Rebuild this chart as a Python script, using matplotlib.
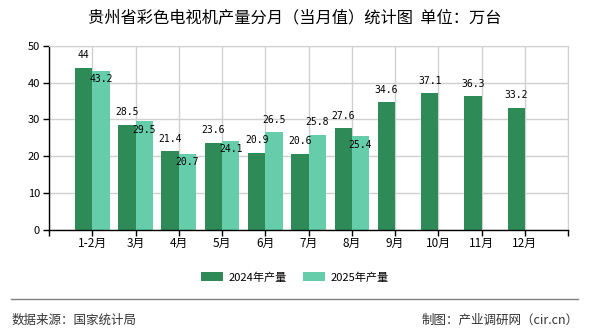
import matplotlib.pyplot as plt
from matplotlib.lines import Line2D

plt.rcParams['font.family'] = ['Noto Sans CJK SC', 'DejaVu Sans']

# monthly output, 10k units
months = ['1-2月', '3月', '4月', '5月', '6月', '7月', '8月', '9月', '10月', '11月', '12月']
y2024 = [44, 28.5, 21.4, 23.6, 20.9, 20.6, 27.6, 34.6, 37.1, 36.3, 33.2]
y2025 = [43.2, 29.5, 20.7, 24.1, 26.5, 25.8, 25.4]

c24 = '#2e8b57'
c25 = '#66cdaa'

fig = plt.figure(figsize=(5.9, 3.3), dpi=100)
ax = fig.add_axes([0.083, 0.304, 0.880, 0.557])

x24 = list(range(len(y2024)))
x25 = list(range(len(y2025)))
ax.bar([i - 0.2 for i in x24], y2024, width=0.4, color=c24, label='2024年产量', zorder=2)
ax.bar([i + 0.2 for i in x25], y2025, width=0.4, color=c25, label='2025年产量', zorder=2)

lab = dict(ha='center', va='center', fontsize=7, family='DejaVu Sans Mono',
           textcoords='offset points', zorder=3)
for i, v in enumerate(y2024):
    ax.annotate(f'{v:g}', (i - 0.2, v), xytext=(0, 9), **lab)
for i, v in enumerate(y2025):
    # labels that would clash with the 2024 label sit just under the bar top
    dy = -6 if abs(v - y2024[i]) < 3 else 9
    ax.annotate(f'{v:g}', (i + 0.2, v), xytext=(0, dy), **lab)

ax.set_xlim(-1, 11)
ax.set_ylim(0, 50)
ax.set_xticks(range(-1, 12))
ax.set_xticklabels([''] + months + [''], fontsize=8.5)
ax.set_yticks(range(0, 51, 10))
ax.tick_params(axis='y', labelsize=8, length=4.5, width=1, pad=2)
ax.tick_params(axis='x', length=4, width=1, pad=1.5)
ax.grid(True, color='#d0d0d0', linewidth=1, zorder=0)
ax.set_axisbelow(True)
for s in ['top', 'right']:
    ax.spines[s].set_color('#d0d0d0')
for s in ['left', 'bottom']:
    ax.spines[s].set_color('black')
    ax.spines[s].set_linewidth(1)

fig.text(0.5, 0.945, '贵州省彩色电视机产量分月（当月值）统计图  单位：万台',
         ha='center', va='center', fontsize=11.7)

fig.legend(loc='center', bbox_to_anchor=(0.5, 0.16), ncol=2, frameon=False,
           fontsize=8, handlelength=2.0, handleheight=0.85, handletextpad=0.5,
           columnspacing=1.4)

fig.add_artist(Line2D([0.018, 0.98], [0.093, 0.093], color='#808080', linewidth=1))
fig.text(0.02, 0.03, '数据来源：国家统计局', ha='left', va='center', fontsize=9, color='#333333')
fig.text(0.98, 0.03, '制图：产业调研网（cir.cn）', ha='right', va='center', fontsize=9, color='#333333')

fig.savefig('out.png', dpi=100)
